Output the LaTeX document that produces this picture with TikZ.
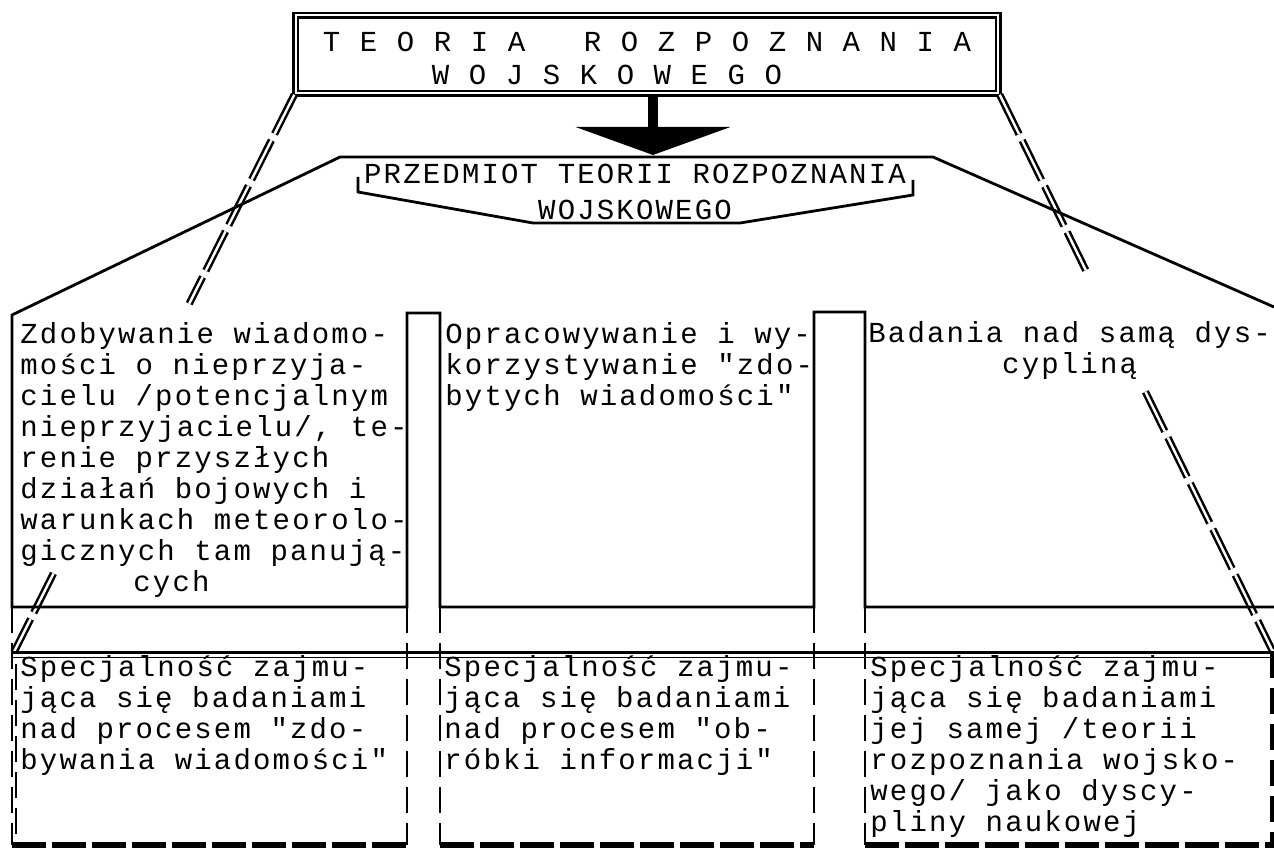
\documentclass[tikz,border=0pt]{standalone}
\usepackage{fontspec}
\newfontfamily\typewriter[LetterSpace=7.5]{Liberation Mono}
\usetikzlibrary{arrows.meta,calc}

\newcommand\tw{\typewriter\fontsize{14.5pt}{15.5pt}\selectfont\lineskiplimit=-100pt\relax}

\tikzset{
  frame/.style={line width=1.4pt},
  rail/.style={double, double distance=1.2pt, line width=1.25pt, dash pattern=on 22pt off 3.5pt},
  gapedge/.style={line width=1.4pt, dash pattern=on 13pt off 5pt},
  baserule/.style={line width=2.8pt, dash pattern=on 17pt off 3pt},
  boxtext/.style={font=\tw, align=left, inner sep=0pt, anchor=north west},
  topbox/.style={draw, double, double distance=1pt, line width=1.3pt,
    minimum width=351.4pt, minimum height=39pt, inner sep=0pt,
    font={\tw\baselineskip=16.5pt}, align=left},
  bigarrow/.style={line width=5pt, -{Triangle[width=77pt,length=14pt]}}
}

\begin{document}
\begin{tikzpicture}[x=0.5pt, y=-0.5pt]
  \useasboundingbox (0,0) rectangle (1274,850);

  % title box and the arrow under it
  \node[topbox] (teoria) at (647,54.4)
    {\rule{0pt}{14.1pt}T E O R I A\ \ \ R O Z P O Z N A N I A\\
     \hspace*{54.5pt}W O J S K O W E G O};
  \coordinate (przTop) at (653,155);
  \draw[bigarrow] (teoria.south -| przTop) -- (przTop);

  % corners of the lower row (ends of the rails)
  \coordinate (cornerA) at (14,652);
  \coordinate (cornerC) at (1272,650);

  % rails first, the frames go over them
  \draw[rail] (teoria.south west) -- ($(teoria.south west)!.375!(cornerA)$)
              ($(teoria.south west)!.859!(cornerA)$) -- (cornerA);
  \draw[rail] (teoria.south east) -- ($(teoria.south east)!.316!(cornerC)$)
              ($(teoria.south east)!.535!(cornerC)$) -- (cornerC);

  % roof and upper row
  \draw[frame] (1274,307) -- (933,157) -- (340,157) -- (12,315) -- (12,607)
    -- (407,607) -- (407,313) -- (440,313) -- (440,607) -- (814,607)
    -- (814,312) -- (865,312) -- (865,607) -- (1274,607);
  \draw[frame] (358,177) -- (358,192) -- (533,223) -- (740,223)
    -- (913,195) -- (913,180);
  \node[font={\tw\baselineskip=18pt}, align=center, inner sep=0pt, anchor=north]
    (przedmiot) at (635,164) {PRZEDMIOT TEORII ROZPOZNANIA\\WOJSKOWEGO};

  % double rule between the rows
  \draw[line width=1.5pt] (12,652) -- (1274,652);
  \draw[line width=0.9pt] (12,657.5) -- (1274,657.5);

  % lower row
  \foreach \x in {12,407,440,814,865}
    \draw[gapedge] (\x,607) -- (\x,845);
  \draw[gapedge] (16,664) -- (16,845);
  \draw[gapedge, line width=1.8pt] (1272,652) -- (1272,845);
  \foreach \a/\b in {12/407,440/814,865/1274}
    \draw[baserule] (\a,845) -- (\b,845);

  % texts, upper row
  \node[boxtext] (zdob) at (20,322)
    {Zdobywanie wiadomo-\\mości o nieprzyja-\\cielu /potencjalnym\\
     nieprzyjacielu/, te-\\renie przyszłych\\działań bojowych i\\
     warunkach meteorolo-\\gicznych tam panują-\\\hspace*{56.5pt}cych};
  \node[boxtext] (oprac) at (445,322)
    {Opracowywanie i wy-\\korzystywanie "zdo-\\bytych wiadomości"};
  \node[boxtext, align=center] (badania) at (868,321)
    {Badania nad samą dys-\\cypliną};

  % texts, lower row
  \node[boxtext] (specA) at (20,655)
    {Specjalność zajmu-\\jąca się badaniami\\nad procesem "zdo-\\bywania wiadomości"};
  \node[boxtext] (specB) at (444,655)
    {Specjalność zajmu-\\jąca się badaniami\\nad procesem "ob-\\róbki informacji"};
  \node[boxtext] (specC) at (870,655)
    {Specjalność zajmu-\\jąca się badaniami\\jej samej /teorii\\
     rozpoznania wojsko-\\wego/ jako dyscy-\\pliny naukowej};
\end{tikzpicture}
\end{document}
